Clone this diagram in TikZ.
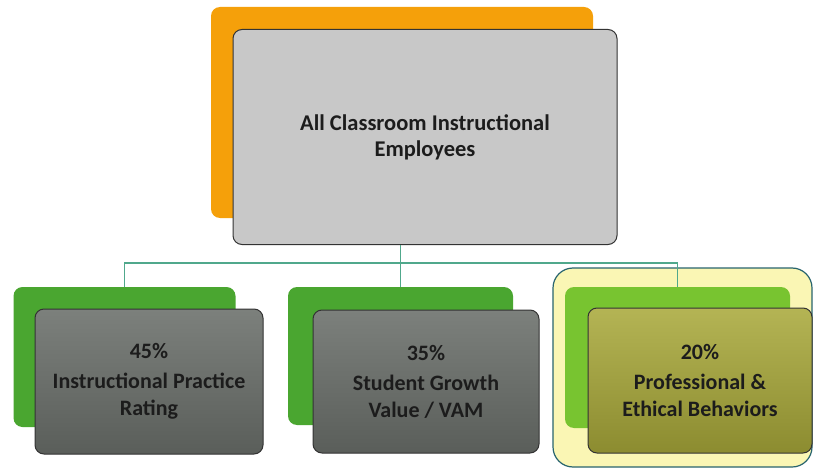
\documentclass[tikz,border=0pt]{standalone}
\usepackage{fontspec}
\setmainfont{Carlito}
\usepackage{tikz}
\usetikzlibrary{shapes,positioning,calc}
\definecolor{backorange}{RGB}{245,160,10}
\definecolor{topgray}{RGB}{200,200,200}
\definecolor{backgreen}{RGB}{74,166,48}
\definecolor{litegreen}{RGB}{120,196,48}
\definecolor{boxgrayA}{RGB}{124,128,124}
\definecolor{boxgrayB}{RGB}{90,94,90}
\definecolor{oliveA}{RGB}{180,180,84}
\definecolor{oliveB}{RGB}{140,140,48}
\definecolor{hilite}{RGB}{250,246,180}
\definecolor{hiliteedge}{RGB}{40,100,110}
\definecolor{busline}{RGB}{80,168,140}
\definecolor{labeltext}{RGB}{28,28,28}
\tikzset{
    backbox/.style={rectangle, rounded corners=9pt, inner sep=0pt},
    frontbox/.style={rectangle, draw=black!80, line width=1pt, rounded corners=9pt, inner sep=0pt, text=labeltext, align=center, font=\bfseries\fontsize{22}{27}\selectfont},
    grayshade/.style={top color=boxgrayA, bottom color=boxgrayB},
    oliveshade/.style={top color=oliveA, bottom color=oliveB},
    conn/.style={draw=busline, line width=1.8pt}
}
\begin{document}
\begin{tikzpicture}[x=1pt, y=-1pt]
    \useasboundingbox (0,0) rectangle (814,468);
    \fill[white] (0,0) rectangle (814,468);

    % Highlight round the third group
    \node [backbox, draw=hiliteedge, line width=1.2pt, fill=hilite, rounded corners=20pt, minimum width=259pt, minimum height=199pt] (hilight) at (682.5,367.5) {};

    % Top element
    \node [backbox, fill=backorange, minimum width=382pt, minimum height=211pt] (allback) at (402,112.5) {};
    \node [frontbox, fill=topgray, minimum width=384pt, minimum height=215pt, font=\bfseries\fontsize{22.5}{26}\selectfont] (allemp) at (425,137) {All Classroom Instructional\\Employees};

    % Back boxes of the three parts
    \node [backbox, fill=backgreen, minimum width=222pt, minimum height=140pt] (leftback) at (124.5,357) {};
    \node [backbox, fill=backgreen, minimum width=225pt, minimum height=138pt] (midback) at (400.5,356) {};
    \node [backbox, fill=litegreen, minimum width=225pt, minimum height=141pt] (rightback) at (677.5,357.5) {};

    % Connectors
    \coordinate (bus) at (400,263);
    \draw [conn] (leftback.north) |- (bus) -| (rightback.north);
    \draw [conn] (midback.north |- allemp.south) -- (midback.north);

    % Front boxes with the weights
    \node [frontbox, grayshade, minimum width=228pt, minimum height=145pt] (practice) at (149,381.5) {45\%\\[3pt]Instructional Practice\\Rating};
    \node [frontbox, grayshade, minimum width=226pt, minimum height=143pt] (growth) at (426,381.5) {35\%\\[3pt]Student Growth\\Value / VAM};
    \node [frontbox, oliveshade, minimum width=224pt, minimum height=145pt] (ethics) at (700,380.5) {20\%\\[3pt]Professional \&\\Ethical Behaviors};
\end{tikzpicture}
\end{document}
